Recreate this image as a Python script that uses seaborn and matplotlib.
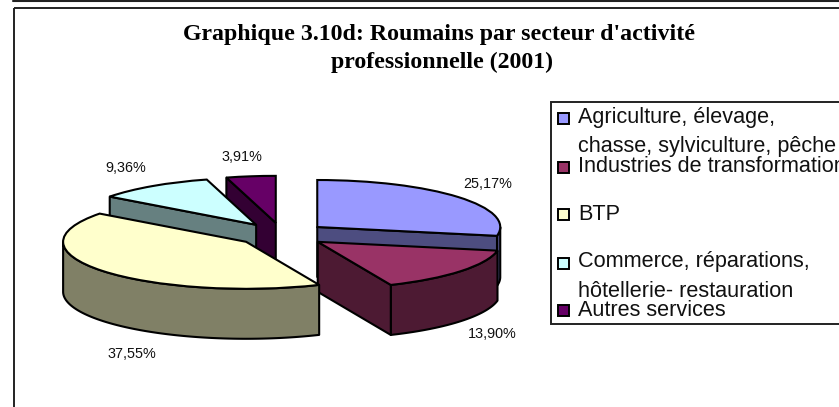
import numpy as np
import matplotlib
matplotlib.use("Agg")
import matplotlib.pyplot as plt
from matplotlib.patches import Rectangle
import seaborn as sns

# ---- data ----
categories = ["Agriculture, élevage,\nchasse, sylviculture, pêche",
              "Industries de transformation",
              "BTP",
              "Commerce, réparations,\nhôtellerie- restauration",
              "Autres services"]
values = [25.17, 13.90, 37.55, 9.36, 3.91]
value_labels = ["25,17%", "13,90%", "37,55%", "9,36%", "3,91%"]
title_lines = ["Graphique 3.10d: Roumains par secteur d'activité",
               "professionnelle (2001)"]
hex_colors = ["#9999FF", "#993366", "#FFFFCC", "#CCFFFF", "#660066"]

W, H = 839, 407
sns.set_theme(style="white")
plt.rcParams["font.family"] = ["Liberation Sans", "DejaVu Sans"]
palette = sns.color_palette(hex_colors)
shades = [tuple(0.5 * c for c in col) for col in palette]

fig = plt.figure(figsize=(W / 100, H / 100), dpi=100, facecolor="white")

# pie axes: one data unit is RX px horizontally and RY px vertically
RX, RY, CX, CY, DEPTH_PX = 183.0, 47.0, 282.0, 234.5, 50.0
ax = fig.add_axes([0, 0, 1, 1])
wedges, _ = ax.pie(values, explode=[0.25] * len(values), startangle=90,
                   counterclock=False, colors=palette,
                   wedgeprops=dict(edgecolor="black", linewidth=1.5))
ax.set_aspect("auto")
ax.set_xlim(-CX / RX, (W - CX) / RX)
ax.set_ylim((CY - H) / RY, CY / RY)
ax.set_axis_off()
depth = DEPTH_PX / RY

draw_order = [4, 3, 0, 1, 2]
line = dict(edgecolor="black", linewidth=1.5, joinstyle="round")
for rank, i in enumerate(draw_order):
    w = wedges[i]
    cx, cy = w.center
    base = 10 * (rank + 1)
    t = np.radians(np.linspace(w.theta1, w.theta2, 240))
    lower = np.sin(t) <= 0
    if lower.any():
        x = cx + np.cos(t[lower])
        y = cy + np.sin(t[lower])
        ax.fill(np.r_[x, x[::-1]], np.r_[y, y[::-1] - depth],
                facecolor=shades[i], zorder=base, **line)
    for theta, sign in ((w.theta1, -1), (w.theta2, 1)):
        if np.sin(np.radians(theta + sign * 90)) < -1e-6:
            ex = cx + np.cos(np.radians(theta))
            ey = cy + np.sin(np.radians(theta))
            ax.fill([cx, ex, ex, cx], [cy, ey, ey - depth, cy - depth],
                    facecolor=shades[i], zorder=base + 1, **line)
    w.set_zorder(base + 2)

# overlay in pixel coordinates for frame, texts and legend
ov = fig.add_axes([0, 0, 1, 1], facecolor="none")
ov.set_xlim(0, W)
ov.set_ylim(H, 0)
ov.set_axis_off()

ov.add_patch(Rectangle((13.5, 7.5), W, H, fill=False, edgecolor="#222222", linewidth=1.4))
ov.plot([13, W], [0.5, 0.5], color="#222222", lw=1.5)

title_y = [40, 68]
title_x = [439, 442]
for txt, x, y in zip(title_lines, title_x, title_y):
    ov.text(x, y, txt, ha="center", va="baseline", fontsize=17.2,
            fontweight="bold", family="Liberation Serif", color="black")

label_pos = [(488, 184), (492, 334), (132, 354), (126, 168), (242, 157)]
for txt, (x, y) in zip(value_labels, label_pos):
    ov.text(x, y, txt, ha="center", va="center", fontsize=10.4, color="#111111")

ov.add_patch(Rectangle((551, 102), W, 222, facecolor="white", edgecolor="#222222", linewidth=1.4))
legend_y = [118, 167, 214, 263, 310]
text_rows = [[123, 152], [172], [220], [267, 297], [316]]
for col, cat, my, rows in zip(palette, categories, legend_y, text_rows):
    ov.add_patch(Rectangle((558, my - 5.5), 11, 11, facecolor=col, edgecolor="black", linewidth=1.4))
    for part, ry in zip(cat.split("\n"), rows):
        ov.text(578, ry, part, ha="left", va="baseline", fontsize=15.6, color="#111111")

fig.savefig("out.png", dpi=100)
